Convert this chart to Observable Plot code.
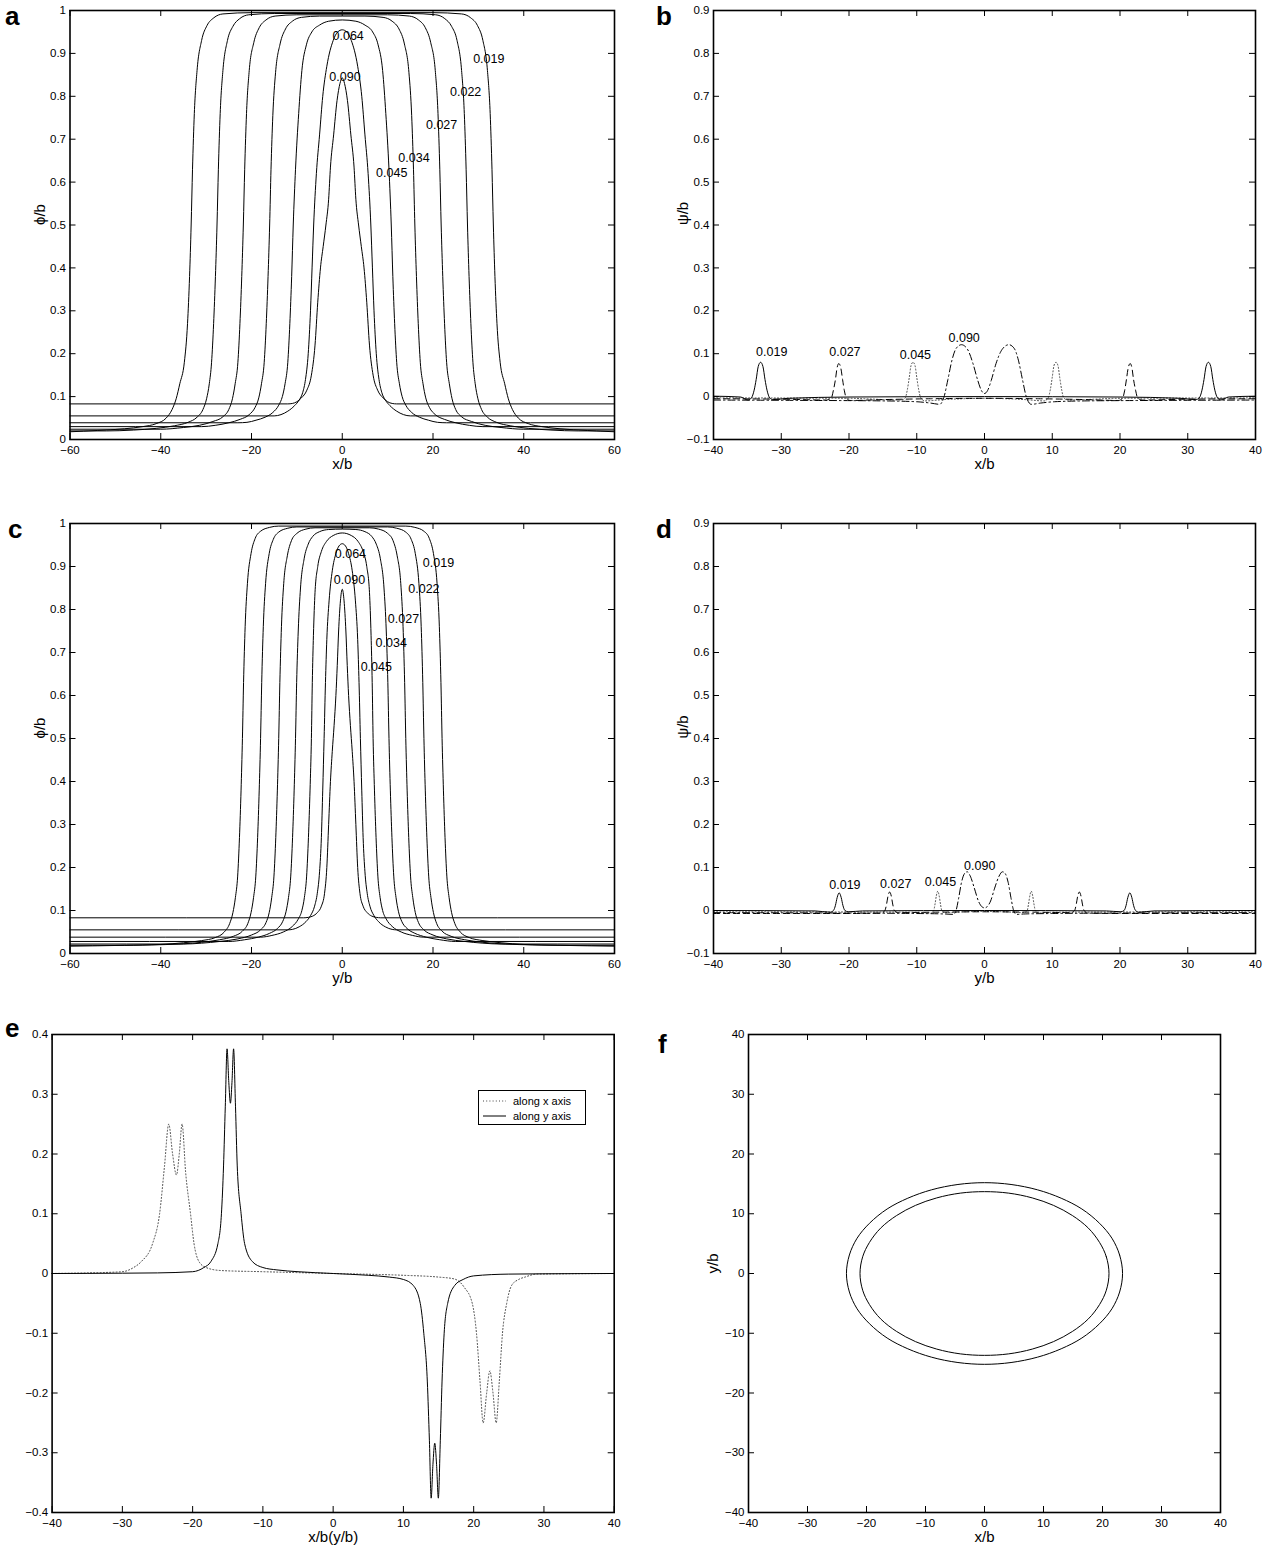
<!DOCTYPE html>
<html><head><meta charset="utf-8">
<script src="https://cdn.jsdelivr.net/npm/d3@7"></script>
<script src="https://cdn.jsdelivr.net/npm/@observablehq/plot@0.6"></script>
<style>
body{margin:0;background:#fff;}
#page{position:relative;width:1266px;height:1552px;overflow:hidden;font-family:"Liberation Sans",Arial,Helvetica,sans-serif;color:#000;}
.panel{position:absolute;}
.letter{position:absolute;font-weight:bold;font-size:26px;line-height:26px;}
.legend{position:absolute;border:1.3px solid #000;background:#fff;box-sizing:border-box;}
.legend .row{position:absolute;left:0;font-size:11px;line-height:12px;white-space:nowrap;}
</style></head><body><div id="page"></div>
<script>
// ---------------- DATA ----------------
const contourLevels = ["0.019","0.022","0.027","0.034","0.045","0.064","0.090"];

// panel a : phi/b along x
const a019=[[-60,.018],[-54,.021],[-48,.025],[-44,.03],[-41,.037],[-38.8,.05],[-37.5,.07],[-36.6,.095],[-35.8,.13],[-34.8,.18],[-34.1,.27],[-33.65,.38],[-33.3,.5],[-33,.63],[-32.6,.76],[-32,.86],[-31,.93],[-29.8,.965],[-28.3,.983],[-26.3,.992],[-20,.995],[0,.995],[20,.995],[26.3,.992],[28.3,.983],[29.8,.965],[31,.93],[32,.86],[32.6,.76],[33,.63],[33.3,.5],[33.65,.38],[34.1,.27],[34.8,.18],[35.8,.13],[36.6,.095],[37.5,.07],[38.8,.05],[41,.037],[44,.03],[48,.025],[54,.021],[60,.018]];
const a022=[[-60,.02],[-52,.02],[-46,.022],[-41,.026],[-37,.032],[-34,.04],[-32,.052],[-30.7,.07],[-29.9,.095],[-29.3,.13],[-28.8,.18],[-28.35,.27],[-27.95,.38],[-27.6,.5],[-27.3,.63],[-26.9,.76],[-26.3,.86],[-25.3,.93],[-24.1,.963],[-22.6,.981],[-20.6,.99],[-15,.993],[0,.993],[15,.993],[20.6,.99],[22.6,.981],[24.1,.963],[25.3,.93],[26.3,.86],[26.9,.76],[27.3,.63],[27.6,.5],[27.95,.38],[28.35,.27],[28.8,.18],[29.3,.13],[29.9,.095],[30.7,.07],[32,.052],[34,.04],[37,.032],[41,.026],[46,.022],[52,.02],[60,.02]];
const a027=[[-60,.024],[-40,.024],[-35,.028],[-31.5,.033],[-28.5,.042],[-26.3,.053],[-25,.07],[-24.2,.095],[-23.6,.13],[-23,.18],[-22.55,.27],[-22.15,.38],[-21.8,.5],[-21.5,.63],[-21.1,.76],[-20.5,.86],[-19.5,.925],[-18.3,.96],[-16.8,.978],[-14.8,.987],[-10,.99],[0,.99],[10,.99],[14.8,.987],[16.8,.978],[18.3,.96],[19.5,.925],[20.5,.86],[21.1,.76],[21.5,.63],[21.8,.5],[22.15,.38],[22.55,.27],[23,.18],[23.6,.13],[24.2,.095],[25,.07],[26.3,.053],[28.5,.042],[31.5,.033],[35,.028],[40,.024],[60,.024]];
const a034=[[-60,.03],[-31,.03],[-28,.033],[-25,.039],[-22.5,.047],[-20.5,.058],[-19.2,.075],[-18.4,.097],[-17.8,.13],[-17.2,.18],[-16.75,.27],[-16.35,.38],[-16,.5],[-15.7,.63],[-15.3,.755],[-14.7,.855],[-13.7,.922],[-12.5,.957],[-11,.975],[-9,.984],[-5,.987],[0,.987],[5,.987],[9,.984],[11,.975],[12.5,.957],[13.7,.922],[14.7,.855],[15.3,.755],[15.7,.63],[16,.5],[16.35,.38],[16.75,.27],[17.2,.18],[17.8,.13],[18.4,.097],[19.2,.075],[20.5,.058],[22.5,.047],[25,.039],[28,.033],[31,.03],[60,.03]];
const a045=[[-60,.039],[-23,.039],[-21,.04],[-19,.045],[-17,.052],[-15.3,.063],[-14,.08],[-13.2,.1],[-12.6,.13],[-12,.18],[-11.55,.27],[-11.15,.38],[-10.8,.5],[-10.3,.63],[-9.6,.76],[-8.9,.86],[-7.9,.92],[-6.7,.95],[-5,.966],[-3,.975],[0,.978],[3,.975],[5,.966],[6.7,.95],[7.9,.92],[8.9,.86],[9.6,.76],[10.3,.63],[10.8,.5],[11.15,.38],[11.55,.27],[12,.18],[12.6,.13],[13.2,.1],[14,.08],[15.3,.063],[17,.052],[19,.045],[21,.04],[23,.039],[60,.039]];
const a064=[[-60,.055],[-15,.055],[-13.5,.058],[-12,.066],[-10.5,.079],[-9.5,.092],[-8.7,.11],[-8.1,.14],[-7.5,.2],[-7,.3],[-6.65,.4],[-6.3,.5],[-5.7,.62],[-5,.71],[-4.3,.8],[-3.4,.87],[-2,.93],[-1,.95],[0,.955],[1,.95],[2,.93],[3.4,.87],[4.3,.8],[5,.71],[5.7,.62],[6.3,.5],[6.65,.4],[7,.3],[7.5,.2],[8.1,.14],[8.7,.11],[9.5,.092],[10.5,.079],[12,.066],[13.5,.058],[15,.055],[60,.055]];
const a090=[[-60,.083],[-12,.083],[-11,.084],[-10,.088],[-9,.097],[-7.8,.115],[-6.8,.15],[-6,.22],[-5.4,.32],[-4.8,.4],[-4.2,.45],[-3.6,.5],[-3,.56],[-2.6,.635],[-1.9,.71],[-1.15,.79],[-.5,.83],[0,.843],[.5,.83],[1.15,.79],[1.9,.71],[2.6,.635],[3,.56],[3.6,.5],[4.2,.45],[4.8,.4],[5.4,.32],[6,.22],[6.8,.15],[7.8,.115],[9,.097],[10,.088],[11,.084],[12,.083],[60,.083]];
const aLabelX=[32.3,27.2,21.9,15.8,10.9,1.3,0.6];
const aLabelY=[.886,.81,.734,.657,.621,.94,.846];

// panel c : phi/b along y
const c019=[[-60,.017],[-48,.019],[-40,.021],[-35,.025],[-31,.03],[-28,.037],[-26,.05],[-24.8,.07],[-24.1,.095],[-23.55,.13],[-23.05,.18],[-22.65,.27],[-22.3,.38],[-22,.5],[-21.75,.63],[-21.4,.76],[-20.9,.86],[-20.1,.93],[-19.2,.965],[-18,.982],[-16,.991],[-14,.994],[0,.994],[14,.994],[16,.991],[18,.982],[19.2,.965],[20.1,.93],[20.9,.86],[21.4,.76],[21.75,.63],[22,.5],[22.3,.38],[22.65,.27],[23.05,.18],[23.55,.13],[24.1,.095],[24.8,.07],[26,.05],[28,.037],[31,.03],[35,.025],[40,.021],[48,.019],[60,.017]];
const c022=[[-60,.019],[-50,.019],[-42,.02],[-36,.022],[-31,.026],[-27,.032],[-24,.04],[-22,.052],[-20.8,.07],[-20.1,.095],[-19.55,.13],[-19.05,.18],[-18.65,.27],[-18.3,.38],[-18,.5],[-17.75,.63],[-17.4,.76],[-16.9,.86],[-16.1,.93],[-15.2,.963],[-14,.98],[-12,.989],[-10,.992],[0,.992],[10,.992],[12,.989],[14,.98],[15.2,.963],[16.1,.93],[16.9,.86],[17.4,.76],[17.75,.63],[18,.5],[18.3,.38],[18.65,.27],[19.05,.18],[19.55,.13],[20.1,.095],[20.8,.07],[22,.052],[24,.04],[27,.032],[31,.026],[36,.022],[42,.02],[50,.019],[60,.019]];
const c027=[[-60,.022],[-35,.022],[-31,.024],[-27,.028],[-23,.034],[-20,.043],[-18,.055],[-16.8,.072],[-16.1,.095],[-15.55,.13],[-15.05,.18],[-14.65,.27],[-14.3,.38],[-14,.5],[-13.75,.63],[-13.4,.76],[-12.9,.86],[-12.1,.925],[-11.2,.96],[-10,.977],[-8,.987],[-6,.99],[0,.99],[6,.99],[8,.987],[10,.977],[11.2,.96],[12.1,.925],[12.9,.86],[13.4,.76],[13.75,.63],[14,.5],[14.3,.38],[14.65,.27],[15.05,.18],[15.55,.13],[16.1,.095],[16.8,.072],[18,.055],[20,.043],[23,.034],[27,.028],[31,.024],[35,.022],[60,.022]];
const c034=[[-60,.028],[-25,.028],[-21.5,.032],[-18.5,.038],[-16,.047],[-14.3,.058],[-13.1,.075],[-12.4,.097],[-11.85,.13],[-11.35,.18],[-10.95,.27],[-10.6,.38],[-10.3,.5],[-10.05,.63],[-9.7,.75],[-9.2,.85],[-8.4,.918],[-7.5,.952],[-6.5,.97],[-5,.981],[-3,.986],[0,.987],[3,.986],[5,.981],[6.5,.97],[7.5,.952],[8.4,.918],[9.2,.85],[9.7,.75],[10.05,.63],[10.3,.5],[10.6,.38],[10.95,.27],[11.35,.18],[11.85,.13],[12.4,.097],[13.1,.075],[14.3,.058],[16,.047],[18.5,.038],[21.5,.032],[25,.028],[60,.028]];
const c045=[[-60,.038],[-18,.038],[-15.5,.042],[-13,.05],[-11,.063],[-9.7,.08],[-8.9,.1],[-8.35,.13],[-7.85,.18],[-7.45,.27],[-7.1,.38],[-6.8,.5],[-6.6,.63],[-6.35,.74],[-6,.84],[-5.4,.9],[-4.6,.935],[-3.5,.958],[-2,.972],[0,.978],[2,.972],[3.5,.958],[4.6,.935],[5.4,.9],[6,.84],[6.35,.74],[6.6,.63],[6.8,.5],[7.1,.38],[7.45,.27],[7.85,.18],[8.35,.13],[8.9,.1],[9.7,.08],[11,.063],[13,.05],[15.5,.042],[18,.038],[60,.038]];
const c064=[[-60,.055],[-12,.055],[-11,.056],[-9.5,.062],[-8,.074],[-7,.088],[-6.1,.11],[-5.5,.14],[-5,.19],[-4.6,.27],[-4.3,.38],[-4,.5],[-3.7,.63],[-3.4,.73],[-2.9,.82],[-2.2,.89],[-1.4,.93],[-.7,.948],[0,.953],[.7,.948],[1.4,.93],[2.2,.89],[2.9,.82],[3.4,.73],[3.7,.63],[4,.5],[4.3,.38],[4.6,.27],[5,.19],[5.5,.14],[6.1,.11],[7,.088],[8,.074],[9.5,.062],[11,.056],[12,.055],[60,.055]];
const c090=[[-60,.083],[-8.5,.083],[-7.5,.084],[-6.5,.087],[-5.5,.095],[-4.6,.11],[-3.9,.14],[-3.4,.2],[-3,.3],[-2.6,.4],[-2.2,.47],[-1.8,.53],[-1.4,.6],[-1.1,.67],[-.8,.75],[-.4,.82],[0,.847],[.4,.82],[.8,.75],[1.1,.67],[1.4,.6],[1.8,.53],[2.2,.47],[2.6,.4],[3,.3],[3.4,.2],[3.9,.14],[4.6,.11],[5.5,.095],[6.5,.087],[7.5,.084],[8.5,.083],[60,.083]];
const cLabelX=[21.2,18.0,13.5,10.8,7.5,1.8,1.6];
const cLabelY=[.909,.847,.779,.722,.667,.93,.868];

// panel b : psi/b along x
const bLevels=["0.019","0.027","0.045","0.090"];
const bSolid=[[-40,.001],[-36,-.001],[-34.9,-.008],[-34.4,-.003],[-34,.015],[-33.7,.04],[-33.4,.07],[-33.05,.08],[-32.7,.07],[-32.4,.04],[-32.1,.015],[-31.7,-.003],[-31.2,-.007],[-29,-.004],[-20,-.001],[0,0],[20,-.001],[29,-.004],[31.2,-.007],[31.7,-.003],[32.1,.015],[32.4,.04],[32.7,.07],[33.05,.08],[33.4,.07],[33.7,.04],[34,.015],[34.4,-.003],[34.9,-.008],[36,-.001],[40,.001]];
const bDashed=[[-40,-.005],[-30,-.006],[-23.3,-.008],[-22.6,-.003],[-22.3,.015],[-22,.04],[-21.75,.068],[-21.5,.077],[-21.2,.066],[-20.95,.04],[-20.7,.015],[-20.4,-.003],[-19.8,-.009],[-15,-.007],[-8,-.005],[0,-.004],[8,-.005],[15,-.007],[19.8,-.009],[20.4,-.003],[20.7,.015],[20.95,.04],[21.2,.066],[21.5,.077],[21.75,.068],[22,.04],[22.3,.015],[22.6,-.003],[23.3,-.008],[30,-.006],[40,-.005]];
const bDotted=[[-40,-.003],[-20,-.004],[-12.3,-.008],[-11.7,-.003],[-11.4,.015],[-11.1,.045],[-10.85,.072],[-10.55,.08],[-10.25,.072],[-10,.045],[-9.7,.015],[-9.4,-.003],[-8.8,-.01],[-6,-.007],[0,-.004],[6,-.007],[8.8,-.01],[9.4,-.003],[9.7,.015],[10,.045],[10.25,.072],[10.55,.08],[10.85,.072],[11.1,.045],[11.4,.015],[11.7,-.003],[12.3,-.008],[20,-.004],[40,-.003]];
const bDashDot=[[-40,-.008],[-25,-.009],[-15,-.01],[-10,-.012],[-8,-.015],[-6.6,-.018],[-6,-.002],[-5.4,.04],[-4.8,.085],[-4.2,.112],[-3.4,.121],[-2.5,.11],[-1.7,.077],[-1,.038],[-.45,.014],[0,.007],[.45,.014],[1,.038],[1.7,.077],[2.6,.11],[3.6,.121],[4.4,.112],[5,.085],[5.6,.04],[6.2,-.002],[6.9,-.018],[8.3,-.015],[10.3,-.012],[15,-.01],[25,-.009],[40,-.008]];
const bLabelX=[-31.4,-20.6,-10.2,-3.0];
const bLabelY=[.104,.104,.098,.137];

// panel d : psi/b along y
const dSolid=[[-40,0],[-25,-.001],[-22.8,-.004],[-22.3,0],[-22,.012],[-21.75,.03],[-21.45,.041],[-21.15,.03],[-20.9,.012],[-20.6,0],[-20.1,-.003],[-18,-.001],[0,0],[18,-.001],[20.1,-.003],[20.6,0],[20.9,.012],[21.15,.03],[21.45,.041],[21.75,.03],[22,.012],[22.3,0],[22.8,-.004],[25,-.001],[40,0]];
const dDashed=[[-40,-.007],[-20,-.007],[-15.2,-.006],[-14.7,0],[-14.45,.015],[-14.25,.033],[-14,.043],[-13.75,.033],[-13.55,.015],[-13.3,0],[-12.8,-.005],[-8,-.004],[0,-.003],[8,-.004],[12.8,-.005],[13.3,0],[13.55,.015],[13.75,.033],[14,.043],[14.25,.033],[14.45,.015],[14.7,0],[15.2,-.006],[20,-.007],[40,-.007]];
const dDotted=[[-40,-.003],[-10,-.004],[-7.9,-.006],[-7.5,0],[-7.3,.015],[-7.1,.035],[-6.9,.045],[-6.7,.035],[-6.5,.015],[-6.3,0],[-5.8,-.005],[-3,-.003],[0,-.002],[3,-.003],[5.8,-.005],[6.3,0],[6.5,.015],[6.7,.035],[6.9,.045],[7.1,.035],[7.3,.015],[7.5,0],[7.9,-.006],[10,-.004],[40,-.003]];
const dDashDot=[[-40,-.005],[-20,-.006],[-10,-.007],[-6,-.008],[-4.6,-.009],[-4.2,0],[-3.8,.03],[-3.4,.065],[-2.95,.086],[-2.55,.09],[-2.1,.08],[-1.5,.052],[-.9,.022],[-.4,.009],[0,.006],[.4,.009],[.9,.022],[1.5,.052],[2.15,.08],[2.65,.09],[3.05,.086],[3.5,.065],[3.9,.03],[4.3,0],[4.7,-.009],[6,-.008],[10,-.007],[20,-.006],[40,-.005]];
const dLabelX=[-20.6,-13.1,-6.5,-0.7];
const dLabelY=[.059,.061,.067,.104];

// panel e
const eSeries=["along x axis","along y axis"];
const eAlongX=[[-40,0],[-35,.001],[-30,.003],[-28.4,.01],[-27.3,.02],[-25.7,.05],[-24.7,.1],[-24,.18],[-23.4,.25],[-22.85,.2],[-22.3,.165],[-21.9,.2],[-21.5,.25],[-21,.17],[-20.3,.1],[-19.8,.05],[-19.1,.02],[-18.1,.01],[-16,.005],[-10,.003],[0,0],[10,-.003],[15,-.006],[17.2,-.009],[18.65,-.023],[19.8,-.05],[20.4,-.1],[20.9,-.18],[21.35,-.25],[21.85,-.2],[22.3,-.163],[22.75,-.2],[23.2,-.25],[23.65,-.18],[24.1,-.1],[24.7,-.05],[25.4,-.02],[26.4,-.01],[27.3,-.006],[29,-.001],[40,0]];
const eAlongY=[[-40,0],[-30,.0005],[-25,.001],[-20,.003],[-18.4,.01],[-17.4,.02],[-16.4,.05],[-15.9,.1],[-15.6,.18],[-15.35,.28],[-15.1,.376],[-14.85,.32],[-14.62,.285],[-14.4,.32],[-14.17,.376],[-13.9,.28],[-13.65,.18],[-13.1,.1],[-12.6,.05],[-11.5,.02],[-10,.01],[-8,.006],[-5,.003],[0,0],[5,-.003],[8,-.006],[10,-.01],[11.4,-.02],[12.4,-.05],[12.9,-.1],[13.4,-.18],[13.7,-.28],[13.95,-.376],[14.2,-.32],[14.46,-.284],[14.72,-.32],[14.97,-.376],[15.25,-.28],[15.5,-.18],[15.8,-.1],[16.3,-.05],[17.3,-.02],[18.5,-.01],[20,-.004],[25,-.001],[30,-.0005],[40,0]];

// panel f
const fOuter=[[23.4,0],[22.9,3.1],[21.6,5.9],[19.5,8.4],[16.5,10.8],[13,12.6],[9,14],[4.5,14.9],[0,15.2],[-4.5,14.9],[-9,14],[-13,12.6],[-16.5,10.8],[-19.5,8.4],[-21.6,5.9],[-22.9,3.1],[-23.4,0],[-22.9,-3.1],[-21.6,-5.9],[-19.5,-8.4],[-16.5,-10.8],[-13,-12.6],[-9,-14],[-4.5,-14.9],[0,-15.2],[4.5,-14.9],[9,-14],[13,-12.6],[16.5,-10.8],[19.5,-8.4],[21.6,-5.9],[22.9,-3.1]];
const fInner=[[21.1,0],[20.65,2.8],[19.5,5.2],[17.6,7.6],[14.9,9.7],[11.7,11.4],[8.1,12.65],[4.1,13.45],[0,13.7],[-4.1,13.45],[-8.1,12.65],[-11.7,11.4],[-14.9,9.7],[-17.6,7.6],[-19.5,5.2],[-20.65,2.8],[-21.1,0],[-20.65,-2.8],[-19.5,-5.2],[-17.6,-7.6],[-14.9,-9.7],[-11.7,-11.4],[-8.1,-12.65],[-4.1,-13.45],[0,-13.7],[4.1,-13.45],[8.1,-12.65],[11.7,-11.4],[14.9,-9.7],[17.6,-7.6],[19.5,-5.2],[20.65,-2.8]];

// tick values
const ticks60=[-60,-40,-20,0,20,40,60];
const ticks40=[-40,-30,-20,-10,0,10,20,30,40];
const ticksPhi=[0,0.1,0.2,0.3,0.4,0.5,0.6,0.7,0.8,0.9,1];
const ticksPsi=[-0.1,0,0.1,0.2,0.3,0.4,0.5,0.6,0.7,0.8,0.9];
const ticksE=[-0.4,-0.3,-0.2,-0.1,0,0.1,0.2,0.3,0.4];

// ---------------- DRAWING ----------------
const FONT='"Liberation Sans", Arial, Helvetica, sans-serif';
const page=document.getElementById("page");
const fmt=d=>(d<0?"\u2212":"")+Math.abs(d);
const rows=(arr,s)=>arr.map(([x,y])=>({x,y,s}));
const labelRows=(texts,xs,ys)=>texts.map((t,i)=>({t,x:xs[i],y:ys[i]}));

function panel(c){
  const iw=c.width-c.mL-c.mR, ih=c.height-c.mT-c.mB, tk=6;
  const marks=[
    ...c.marks,
    Plot.tickX(c.xt,{x:d=>d,insetTop:ih-tk,stroke:"black",strokeWidth:1}),
    Plot.tickX(c.xt,{x:d=>d,insetBottom:ih-tk,stroke:"black",strokeWidth:1}),
    Plot.tickY(c.yt,{y:d=>d,insetRight:iw-tk,stroke:"black",strokeWidth:1}),
    Plot.tickY(c.yt,{y:d=>d,insetLeft:iw-tk,stroke:"black",strokeWidth:1}),
    Plot.frame({stroke:"black",strokeWidth:1.6}),
    Plot.axisX({ticks:c.xt,tickSize:0,tickPadding:6,tickFormat:fmt,label:null,fontSize:11.5}),
    Plot.axisY({ticks:c.yt,tickSize:0,tickPadding:4,tickFormat:fmt,label:null,fontSize:11.5})
  ];
  if(c.xl) marks.push(Plot.text([c.xl],{frameAnchor:"bottom",dy:29,text:d=>d,fontSize:15}));
  if(c.yl) marks.push(Plot.text([c.yl],{frameAnchor:"left",dx:c.ylDx,rotate:-90,text:d=>d,fontSize:15}));
  const svg=Plot.plot({
    width:c.width,height:c.height,
    marginLeft:c.mL,marginRight:c.mR,marginTop:c.mT,marginBottom:c.mB,
    x:{domain:c.xd},y:{domain:c.yd},
    style:{fontFamily:FONT,fontSize:"11.5px",background:"transparent",color:"black",overflow:"visible"},
    marks
  });
  const div=document.createElement("div");
  div.className="panel";
  div.style.left=c.left+"px";div.style.top=c.top+"px";
  div.appendChild(svg);
  page.appendChild(div);
}
function letter(t,left,top){
  const d=document.createElement("div");d.className="letter";d.textContent=t;
  d.style.left=left+"px";d.style.top=top+"px";page.appendChild(d);
}

const lineOpts={x:"x",y:"y",z:"s",stroke:"black",strokeWidth:1,curve:"monotone-x"};
const lblOpts={x:"x",y:"y",text:"t",fontSize:12.5,fill:"black"};

// a
const aArr=[a019,a022,a027,a034,a045,a064,a090];
panel({left:0,top:0,width:630,height:500,mL:69.5,mR:16,mT:10,mB:61,
  xd:[-60,60],yd:[0,1],xt:ticks60,yt:ticksPhi,xl:"x/b",yl:"\u03d5/b",ylDx:-30,
  marks:[Plot.line(aArr.flatMap((a,i)=>rows(a,contourLevels[i])),lineOpts),
         Plot.text(labelRows(contourLevels,aLabelX,aLabelY),lblOpts)]});
// c
const cArr=[c019,c022,c027,c034,c045,c064,c090];
panel({left:0,top:510,width:630,height:500,mL:69.5,mR:16,mT:13,mB:57,
  xd:[-60,60],yd:[0,1],xt:ticks60,yt:ticksPhi,xl:"y/b",yl:"\u03d5/b",ylDx:-30,
  marks:[Plot.line(cArr.flatMap((a,i)=>rows(a,contourLevels[i])),lineOpts),
         Plot.text(labelRows(contourLevels,cLabelX,cLabelY),lblOpts)]});

function psiMarks(solid,dashed,dotted,dashdot,lx,ly){
  return [
    Plot.line(rows(dotted,"dot"),{...lineOpts,stroke:"#444",strokeDasharray:"1,2.2"}),
    Plot.line(rows(dashdot,"dd"),{...lineOpts,strokeDasharray:"7,3,1.5,3"}),
    Plot.line(rows(dashed,"da"),{...lineOpts,strokeDasharray:"6,4"}),
    Plot.line(rows(solid,"so"),lineOpts),
    Plot.text(labelRows(bLevels,lx,ly),lblOpts)
  ];
}
// b
panel({left:630,top:0,width:636,height:500,mL:83,mR:11,mT:10,mB:61,
  xd:[-40,40],yd:[-0.1,0.9],xt:ticks40,yt:ticksPsi,xl:"x/b",yl:"\u03c8/b",ylDx:-30,
  marks:psiMarks(bSolid,bDashed,bDotted,bDashDot,bLabelX,bLabelY)});
// d
panel({left:630,top:510,width:636,height:500,mL:83,mR:11,mT:13,mB:57,
  xd:[-40,40],yd:[-0.1,0.9],xt:ticks40,yt:ticksPsi,xl:"y/b",yl:"\u03c8/b",ylDx:-30,
  marks:psiMarks(dSolid,dDashed,dDotted,dDashDot,dLabelX,dLabelY)});
// e
panel({left:0,top:1020,width:630,height:532,mL:51.6,mR:16.3,mT:14,mB:40,
  xd:[-40,40],yd:[-0.4,0.4],xt:ticks40,yt:ticksE,xl:"x/b(y/b)",
  marks:[Plot.line(rows(eAlongX,eSeries[0]),{...lineOpts,stroke:"#444",strokeDasharray:"1,2.2"}),
         Plot.line(rows(eAlongY,eSeries[1]),lineOpts)]});
// f
panel({left:630,top:1020,width:636,height:532,mL:118,mR:46,mT:14,mB:40,
  xd:[-40,40],yd:[-40,40],xt:ticks40,yt:ticks40,xl:"x/b",yl:"y/b",ylDx:-35,
  marks:[Plot.line([...rows(fOuter,"outer"),...rows(fInner,"inner")],{x:"x",y:"y",z:"s",stroke:"black",strokeWidth:1,curve:"catmull-rom-closed"})]});

// legend of e
const lg=document.createElement("div");lg.className="legend";
lg.style.left="478px";lg.style.top="1090px";lg.style.width="108px";lg.style.height="35px";
lg.innerHTML=
 '<div class="row" style="top:4px"><svg width="34" height="12" style="vertical-align:top"><line x1="4" y1="6" x2="27" y2="6" stroke="#444" stroke-dasharray="1,2.2"/></svg>'+eSeries[0]+'</div>'+
 '<div class="row" style="top:19px"><svg width="34" height="12" style="vertical-align:top"><line x1="4" y1="6" x2="27" y2="6" stroke="#000"/></svg>'+eSeries[1]+'</div>';
page.appendChild(lg);

letter("a",5,3);letter("b",656,3);
letter("c",8,516);letter("d",656,516);
letter("e",5,1015);letter("f",658,1031);
</script></body></html>
